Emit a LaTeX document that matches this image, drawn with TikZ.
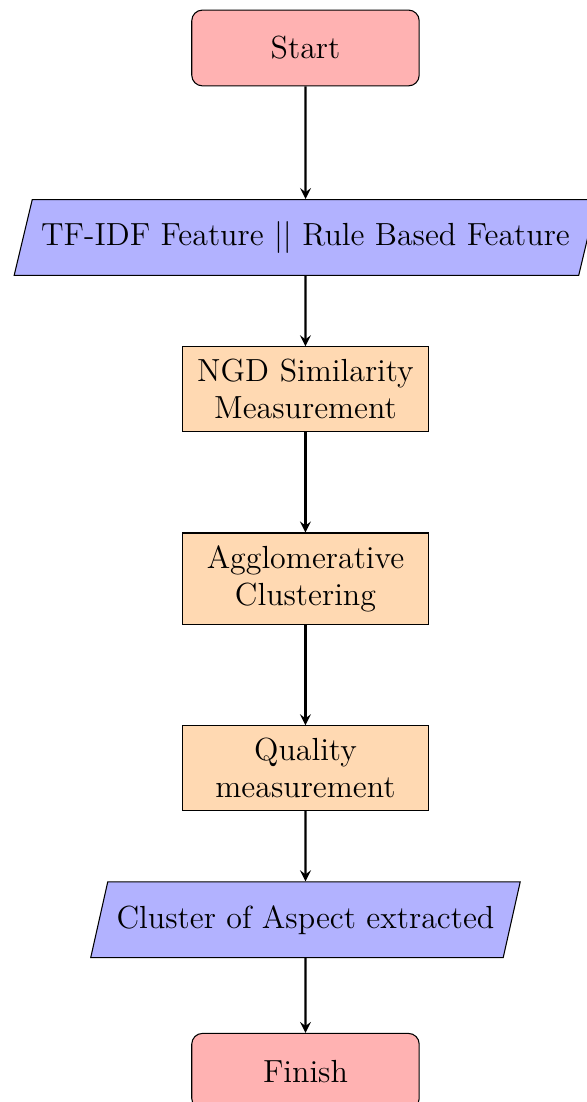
\documentclass[tikz,border=0pt]{standalone}
\usetikzlibrary{shapes.geometric,arrows}
\begin{document}
\begin{tikzpicture}[
  every node/.style={font=\large},
  startstop/.style={rectangle, rounded corners, minimum width=3cm, minimum height=1cm, text centered, draw=black, fill=red!30},
  iobox/.style={trapezium, trapezium left angle=70, trapezium right angle=110, trapezium stretches=true, minimum width=3cm, minimum height=1cm, text centered, draw=black, fill=blue!30},
  procbox/.style={rectangle, minimum width=3cm, minimum height=1cm, text centered, text width=3cm, inner ysep=4.6pt, draw=black, fill=orange!30},
  arrowline/.style={thick, ->, >=stealth}
]
\useasboundingbox (-4.030,0.633) rectangle (3.714,-13.905);
\node[startstop] (start) at (0,0) {Start};
\node[iobox] (in1) at (0,-2.5) {TF-IDF Feature || Rule Based Feature};
\node[procbox] (p1) at (0,-4.5) {NGD Similarity Measurement};
\node[procbox] (p2) at (0,-7) {Agglomerative Clustering};
\node[procbox] (p3) at (0,-9.5) {Quality measurement};
\node[iobox] (out1) at (0,-11.5) {Cluster of Aspect extracted};
\node[startstop] (stop) at (0,-13.5) {Finish};
\draw[arrowline] (start) -- (in1);
\draw[arrowline] (in1) -- (p1);
\draw[arrowline] (p1) -- (p2);
\draw[arrowline] (p2) -- (p3);
\draw[arrowline] (p3) -- (out1);
\draw[arrowline] (out1) -- (stop);
\end{tikzpicture}
\end{document}
